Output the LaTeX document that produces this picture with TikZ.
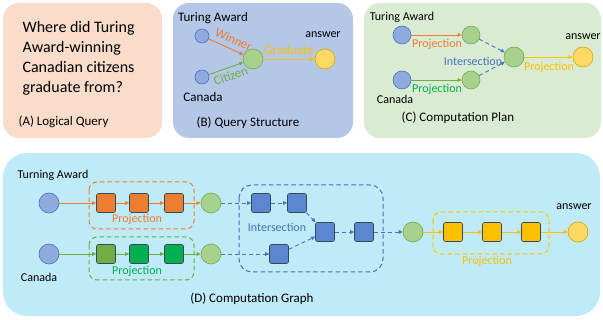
\documentclass[tikz,border=0pt]{standalone}
\usepackage{fontspec}
\setmainfont{Carlito}
\usetikzlibrary{arrows.meta}
\definecolor{peach}{HTML}{FADCCA}
\definecolor{panelB}{HTML}{B4C7E7}
\definecolor{panelC}{HTML}{DAEBD3}
\definecolor{panelD}{HTML}{BFEAF8}
\definecolor{orangeC}{HTML}{ED7D31}
\definecolor{greenL}{HTML}{70AD47}
\definecolor{greenT}{HTML}{00B050}
\definecolor{blueC}{HTML}{4472C4}
\definecolor{blueF}{HTML}{5B87D0}
\definecolor{bluelt}{HTML}{8FAADC}
\definecolor{greenlt}{HTML}{A9D18E}
\definecolor{yellowC}{HTML}{FFC000}
\definecolor{yellowlt}{HTML}{FFD966}
\definecolor{yellowdk}{HTML}{D4A800}
\definecolor{sqborder}{HTML}{34495E}
\begin{document}
\begin{tikzpicture}[x=1pt,y=-1pt,
  f16/.style={font=\fontsize{16}{20}\selectfont},
  f13/.style={font=\fontsize{13}{15}\selectfont},
  f12/.style={font=\fontsize{12}{14}\selectfont},
  bc/.style={circle,draw=blueC,fill=bluelt,line width=0.6pt,inner sep=0pt,minimum size=#1},
  gc/.style={circle,draw=greenL,fill=greenlt,line width=0.6pt,inner sep=0pt,minimum size=#1},
  yc/.style={circle,draw=yellowdk,fill=yellowlt,line width=0.6pt,inner sep=0pt,minimum size=#1},
  sq/.style={rectangle,rounded corners=2pt,draw=sqborder,line width=0.6pt,inner sep=0pt,minimum size=19pt,fill=#1},
  tip/.style={-{Triangle[length=4pt,width=3.5pt]}},
  oarr/.style={tip,draw=orangeC,line width=0.9pt},
  garr/.style={tip,draw=greenL,line width=0.9pt},
  yarr/.style={tip,draw=yellowC,line width=0.9pt},
  barr/.style={tip,draw=blueC,line width=0.9pt,dash pattern=on 4pt off 3pt},
  dbox/.style={draw=#1,line width=1pt,dash pattern=on 4.5pt off 3pt,rounded corners=8pt},
  elab/.style={f13,inner sep=1pt}
]
\useasboundingbox (0,0) rectangle (603,320);
% panels
\fill[peach,rounded corners=16pt] (3,3) rectangle (162,138);
\fill[panelB,rounded corners=16pt] (173,3) rectangle (353,138);
\fill[panelC,rounded corners=16pt] (364,3) rectangle (601,138);
\fill[panelD,rounded corners=24pt] (3,153) rectangle (600,316);

% (A)
\node[f16,anchor=west,align=left] (q) at (19,58) {Where did Turing\\Award-winning\\Canadian citizens\\graduate from?};
\node[f13] (la) at (63.5,122) {(A) Logical Query};

% (B)
\node[f13] (bta) at (213,18) {Turing Award};
\node[bc=14pt] (b1) at (202,36) {};
\node[bc=14pt] (b2) at (202,77) {};
\node[f13] (bca) at (203,97) {Canada};
\node[gc=20pt] (bm) at (253,59) {};
\node[yc=20pt] (ba) at (325,59) {};
\node[f12] (bans) at (323,35) {answer};
\draw[oarr] (b1) -- node[pos=0.6,sloped,above=4pt,elab,text=orangeC] {Winner} (bm);
\draw[garr] (b2) -- node[pos=0.55,sloped,below=2.5pt,elab,text=greenL] {Citizen} (bm);
\draw[yarr] (bm) -- node[pos=0.5,above=3pt,elab,text=yellowC] {Graduate} (ba);
\node[f13] (lb) at (248,123) {(B) Query Structure};

% (C)
\node[f12] (cta) at (402,17) {Turing Award};
\node[bc=18pt] (c1) at (402,35) {};
\node[gc=18pt] (cp1) at (471,35) {};
\node[bc=18pt] (c2) at (402,80) {};
\node[gc=18pt] (cp2) at (471,80) {};
\node[gc=20pt] (ci) at (514,57) {};
\node[yc=20pt] (cans) at (583,57) {};
\node[f12] (canst) at (583,37) {answer};
\node[f12] (cca) at (395,99) {Canada};
\draw[oarr] (c1) -- (cp1);
\draw[garr] (c2) -- (cp2);
\draw[barr] (cp1) -- (ci);
\draw[barr] (cp2) -- (ci);
\draw[yarr] (ci) -- (cans);
\node[f12,text=orangeC] (cl1) at (437,44) {Projection};
\node[f12,text=greenT] (cl2) at (437,89) {Projection};
\node[f12,text=blueC] (cl3) at (473,61) {Intersection};
\node[f12,text=yellowC] (cl4) at (549,67) {Projection};
\node[f13] (lc) at (458,118) {(C) Computation Plan};

% (D)
\node[f12] (dta) at (53,175) {Turning Award};
\node[f12] (dca) at (39,277) {Canada};
\node[bc=20pt] (d1) at (49,203) {};
\node[bc=20pt] (d2) at (49,254) {};
\draw[dbox=orangeC] (89,182) rectangle (194,229);
\draw[dbox=greenL] (89,237) rectangle (194,280);
\draw[dbox=blueC,rounded corners=13pt] (239,185) rectangle (383,272);
\draw[dbox=yellowC] (433,212) rectangle (549,254);
\node[sq=orangeC] (o1) at (106,203) {};
\node[sq=orangeC] (o2) at (139,203) {};
\node[sq=orangeC] (o3) at (174,203) {};
\node[sq=greenL] (g1) at (106,254) {};
\node[sq=greenT] (g2) at (139,254) {};
\node[sq=greenT] (g3) at (174,254) {};
\node[gc=20pt] (dg1) at (211,203) {};
\node[gc=20pt] (dg2) at (211,254) {};
\node[sq=blueF] (k1) at (261,203) {};
\node[sq=blueF] (k2) at (297,203) {};
\node[sq=blueF] (k3) at (279,254) {};
\node[sq=blueF] (k4) at (325,232) {};
\node[sq=blueF] (k5) at (364,232) {};
\node[gc=20pt] (dg3) at (413,232) {};
\node[sq=yellowC] (y1) at (453,232) {};
\node[sq=yellowC] (y2) at (492,232) {};
\node[sq=yellowC] (y3) at (531,232) {};
\node[yc=20pt] (dans) at (578,232) {};
\node[f12] (danst) at (574,207) {answer};
\draw[oarr] (d1) -- (o1);
\draw[oarr] (o1) -- (o2);
\draw[oarr] (o2) -- (o3);
\draw[oarr] (o3) -- (dg1);
\draw[garr] (d2) -- (g1);
\draw[garr] (g1) -- (g2);
\draw[garr] (g2) -- (g3);
\draw[garr] (g3) -- (dg2);
\draw[barr] (dg1) -- (k1);
\draw[barr] (k1) -- (k2);
\draw[barr] (k2) -- (k4);
\draw[barr] (dg2) -- (k3);
\draw[barr] (k3) -- (k4);
\draw[barr] (k4) -- (k5);
\draw[barr] (k5) -- (dg3);
\draw[yarr] (dg3) -- (y1);
\draw[yarr] (y1) -- (y2);
\draw[yarr] (y2) -- (y3);
\draw[yarr] (y3) -- (dans);
\node[f12,text=orangeC] (dl1) at (137,219) {Projection};
\node[f12,text=greenT] (dl2) at (137,271) {Projection};
\node[f12,text=blueC] (dl3) at (277,227) {Intersection};
\node[f12,text=yellowC] (dl4) at (487,261) {Projection};
\node[f13] (ld) at (252,299) {(D) Computation Graph};
\end{tikzpicture}
\end{document}
